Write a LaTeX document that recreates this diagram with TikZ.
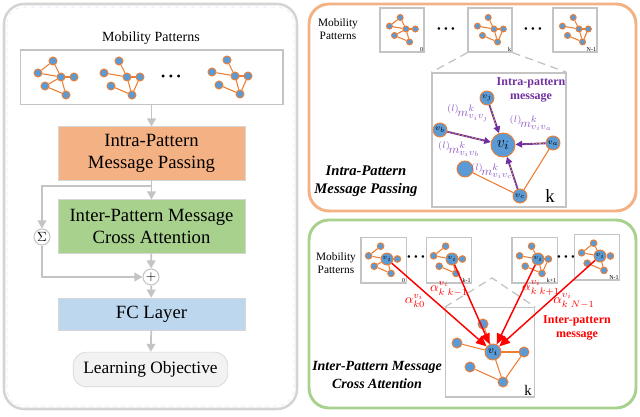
\documentclass[tikz,border=0pt]{standalone}
\usepackage{fontspec}
\setmainfont{Liberation Serif}
\usetikzlibrary{arrows.meta}

\definecolor{nodeblue}{HTML}{5B9BD5}
\definecolor{edgeorange}{HTML}{ED7D31}
\definecolor{intrafill}{HTML}{F4B183}
\definecolor{interfill}{HTML}{A9D18E}
\definecolor{fcfill}{HTML}{BDD7EE}
\definecolor{panelgray}{HTML}{D4D4D4}
\definecolor{boxgray}{HTML}{C4C4C4}
\definecolor{msgpurple}{HTML}{7030A0}
\definecolor{msglabel}{HTML}{8E5CC4}
\definecolor{orangeframe}{HTML}{F4B183}
\definecolor{greenframe}{HTML}{A9D18E}

\tikzset{
  gnode/.style={circle, fill=nodeblue, draw=edgeorange, line width=0.7pt, inner sep=0pt, minimum size=#1},
  gnode/.default=6pt,
  gedge/.style={edgeorange, line width=0.8pt},
  flow/.style={boxgray, line width=1.3pt, -{Triangle[length=6pt,width=6.5pt]}},
  stage/.style={rectangle, draw=boxgray!70, line width=0.5pt, align=center, minimum width=140pt, font=\fontsize{14}{17}\selectfont},
  patframe/.style={draw=boxgray, line width=1pt},
  zoomline/.style={boxgray, line width=1pt, dash pattern=on 6pt off 4pt},
  msg/.style={msgpurple, line width=1.4pt, -{Triangle[length=5pt,width=5pt]}},
  fleck/.style={yellow!60!orange, line width=0.45pt, dash pattern=on 1pt off 1.6pt, shorten >=6pt, shorten <=1pt},
  attn/.style={red, line width=1.1pt, -{Triangle[length=8pt,width=7pt]}},
  op/.style={circle, draw=boxgray, fill=white, line width=0.8pt, inner sep=0pt, minimum size=12pt},
  tag/.style={font=\fontsize{4.5}{5}\selectfont, inner sep=1pt, anchor=south east},
  mlabel/.style={text=msglabel, font=\fontsize{9.5}{10}\selectfont, inner sep=0pt},
  alabel/.style={text=red, font=\fontsize{10}{11}\selectfont, inner sep=0pt},
}

\newcommand{\threedots}{\textbullet\hspace{0.3em}\textbullet\hspace{0.3em}\textbullet}

% small pattern graph: [centre options]{name}{position}{scale}{edges}{node size}
\newcommand{\minigraph}[6][]{%
  \begin{scope}[shift={#3}, scale=#4]
    \node[gnode=#6, #1] (#2-c) at (0,0) {};
    \foreach \p/\x/\y in {t/-8/-16, l/-23/-4, r/13/0, ll/-16/9, b/5/18}
      \node[gnode=#6] (#2-\p) at (\x,\y) {};
    \foreach \a/\b in {#5}
      \draw[gedge] (#2-\a) -- (#2-\b);
  \end{scope}}

\begin{document}
\begin{tikzpicture}[x=0.75pt, y=-0.75pt]
\useasboundingbox (0,0) rectangle (640,417);

% left: the whole model
\draw[panelgray, line width=1.9pt, rounded corners=15pt] (4,4) rectangle (297,409);
\draw[fcfill!50, dashed, line width=0.5pt, rounded corners=13pt] (7,7) rectangle (294,406);
\node (lefttitle) at (151,38) {\fontsize{10.5}{12}\selectfont Mobility Patterns};
\node[patframe, minimum width=197pt, minimum height=41pt] (patbox) at (151.5,77.5) {};
\minigraph{lg0}{(61,77)}{1}{t/l,t/c,l/c,c/r,c/b,ll/c,ll/b}{6pt}
\minigraph{lg1}{(127,77)}{1}{t/c,l/c,c/r,c/b,r/b,ll/b}{6pt}
\node (ldots) at (171,78) {\fontsize{9}{9}\selectfont\threedots};
\minigraph{lg2}{(235,76)}{1}{t/c,l/c,c/r,c/b,r/b,ll/b}{6pt}

\node[stage, fill=intrafill, minimum height=40pt] (intra) at (151.5,153.5) {Intra-Pattern\\Message Passing};
\node[stage, fill=interfill, minimum height=40pt] (inter) at (151.5,226.5) {Inter-Pattern Message\\Cross Attention};
\node[op] (sumop) at (42,237) {$\Sigma$};
\node[op] (plusop) at (151,277) {$+$};
\node[stage, fill=fcfill, minimum height=24pt] (fc) at (151.5,314) {FC Layer};
\node[stage, fill=gray!10, rounded corners=10pt, minimum width=116pt, minimum height=26pt, font=\fontsize{13}{15}\selectfont] (objective) at (150.5,369.5) {Learning Objective};
\coordinate (skip) at (151,186);

\draw[flow] (patbox) -- (intra);
\draw[flow] (intra) -- (inter);
\draw[flow] (skip) -| (sumop);
\draw[flow] (sumop) |- (plusop);
\draw[flow] (inter) -- (plusop);
\draw[flow] (plusop) -- (fc);
\draw[flow] (fc) -- (objective);

% top right: intra-pattern message passing
\draw[orangeframe, line width=2.2pt, rounded corners=15pt] (309,4) rectangle (636,211);
\node[align=center, font=\fontsize{8.5}{10}\selectfont] (toptitle) at (338,29) {Mobility\\Patterns};
\node[patframe, minimum size=33pt] (tbox0) at (402,30) {};
\node[patframe, minimum size=33pt] (tboxk) at (490,30) {};
\node[patframe, minimum size=33pt] (tboxn) at (575,30) {};
\node (tdots0) at (446,30) {\fontsize{8}{8}\selectfont\threedots};
\node (tdots1) at (533,30) {\fontsize{8}{8}\selectfont\threedots};
\minigraph{tg0}{(406,29)}{0.72}{t/l,t/c,l/c,c/r,c/b,ll/c,ll/b}{4.5pt}
\minigraph{tgk}{(494,29)}{0.72}{t/c,l/c,c/r,c/b,r/b,ll/b}{4.5pt}
\minigraph{tgn}{(579,29)}{0.72}{t/c,l/c,c/r,c/b,r/b,ll/b}{4.5pt}
\node[tag] (tag0) at (tbox0.south east) {0};
\node[tag] (tagk) at (tboxk.south east) {k};
\node[tag] (tagn) at (tboxn.south east) {N-1};

\node[patframe, minimum size=100.5pt] (zoombox) at (499,140) {};
\draw[zoomline] (tboxk.south west) -- (zoombox.north west);
\draw[zoomline] (tboxk.south east) -- (zoombox.north east);

\node[gnode=18pt, font=\fontsize{13}{13}\selectfont] (vi) at (503,145) {$v_i$};
\node[gnode=10.5pt, font=\fontsize{6}{6}\selectfont] (vj) at (487,98) {$v_j$};
\node[gnode=10.5pt, font=\fontsize{6}{6}\selectfont] (vb) at (440,130) {$v_b$};
\node[gnode=10.5pt, font=\fontsize{6}{6}\selectfont] (va) at (553,143) {$v_a$};
\node[gnode=10.5pt, font=\fontsize{6}{6}\selectfont] (vc) at (520,196) {$v_c$};
\node[gnode=12pt] (vu) at (465,169) {};
\draw[gedge] (vu) -- (vc);
\draw[gedge] (va) -- (vc);
\foreach \n in {vj,vb,va,vc} {
  \draw[msg] (\n) -- (vi);
  \draw[fleck] (\n) -- (vi);
}
\node[mlabel] (mij) at (468,113) {${}^{(l)}\!m^{k}_{v_iv_j}$};
\node[mlabel] (mia) at (531,123) {${}^{(l)}\!m^{k}_{v_iv_a}$};
\node[mlabel] (mib) at (459,149) {${}^{(l)}\!m^{k}_{v_iv_b}$};
\node[mlabel] (mic) at (492,171) {${}^{(l)}\!m^{k}_{v_iv_c}$};
\node[text=msgpurple, align=center, font=\bfseries\fontsize{9}{11}\selectfont] (intramsg) at (531,90) {Intra-pattern\\message};
\node[font=\fontsize{14}{14}\selectfont] (kbig) at (550,196) {k};
\node[align=center, font=\bfseries\itshape\fontsize{11}{13.5}\selectfont] (intratitle) at (366,181) {Intra-Pattern\\Message Passing};

% bottom right: inter-pattern cross attention
\draw[greenframe, line width=2.2pt, rounded corners=15pt] (309,220) rectangle (636,408);
\node[align=center, font=\fontsize{8.5}{10}\selectfont] (bottomtitle) at (336,263) {Mobility\\Patterns};
\node[patframe, minimum size=34pt] (bbox0) at (383.5,260.5) {};
\node[patframe, minimum size=34pt] (bboxa) at (449,260.5) {};
\node[patframe, minimum size=34pt] (bboxb) at (534.5,260.5) {};
\node[patframe, minimum size=34pt] (bboxn) at (597,257.5) {};
\node (bdots0) at (416,258) {\fontsize{8}{8}\selectfont\threedots};
\node (bdots1) at (566,258) {\fontsize{8}{8}\selectfont\threedots};
\minigraph[minimum size=9pt, label={[font=\fontsize{4.5}{5}\selectfont]center:$v_i$}]{bg0}{(387,259)}{0.8}{t/l,l/c,c/r,c/b,ll/c,ll/b}{5pt}
\minigraph[minimum size=9pt, label={[font=\fontsize{4.5}{5}\selectfont]center:$v_i$}]{bga}{(452,259)}{0.8}{t/l,l/c,c/r,c/b,ll/b}{5pt}
\minigraph[minimum size=9pt, label={[font=\fontsize{4.5}{5}\selectfont]center:$v_i$}]{bgb}{(538,259)}{0.8}{t/c,l/c,c/r,c/b,r/b,ll/b}{5pt}
\minigraph[minimum size=9pt, label={[font=\fontsize{4.5}{5}\selectfont]center:$v_i$}]{bgn}{(600,256)}{0.8}{t/l,t/c,l/c,c/b,ll/b}{5pt}
\node[tag] (btag0) at (bbox0.south east) {0};
\node[tag] (btaga) at (bboxa.south east) {k-1};
\node[tag] (btagb) at (bboxb.south east) {k+1};
\node[tag] (btagn) at (bboxn.south east) {N-1};

\node[patframe, minimum size=67pt] (attnbox) at (490,352.5) {};
\coordinate (apex) at (492,278);
\draw[zoomline] (attnbox.north west) -- (apex) -- (attnbox.north east);

\node[gnode=12pt, font=\fontsize{8}{8}\selectfont] (gvi) at (493,352) {$v_i$};
\node[gnode=7.5pt] (gt) at (483,324) {};
\node[gnode=7.5pt] (gl) at (457,343) {};
\node[gnode=7.5pt] (gr) at (524,352) {};
\node[gnode=7.5pt] (gll) at (470,367) {};
\node[gnode=7.5pt] (gb) at (503,382) {};
\foreach \a/\b in {gt/gvi, gl/gvi, gvi/gr, gvi/gb, gr/gb, gll/gb}
  \draw[gedge] (\a) -- (\b);
\foreach \src in {bg0-c, bga-c, bgb-c, bgn-c}
  \draw[attn] (\src) -- (gvi);

\node[alabel] (a0) at (415,301) {$\alpha^{v_i}_{k0}$};
\node[alabel] (aprev) at (449,289) {$\alpha^{v_i}_{k\;k-1}$};
\node[alabel] (anext) at (541,288) {$\alpha^{v_i}_{k\;k+1}$};
\node[alabel] (alast) at (574,301) {$\alpha^{v_i}_{k\;N-1}$};
\node[text=red, align=center, font=\bfseries\fontsize{9}{11}\selectfont] (intermsg) at (577,328) {Inter-pattern\\message};
\node[font=\fontsize{11}{11}\selectfont] (ksmall) at (528,390) {k};
\node[align=center, font=\bfseries\itshape\fontsize{10.5}{13}\selectfont] (intertitle) at (377,375) {Inter-Pattern Message\\Cross Attention};
\end{tikzpicture}
\end{document}
